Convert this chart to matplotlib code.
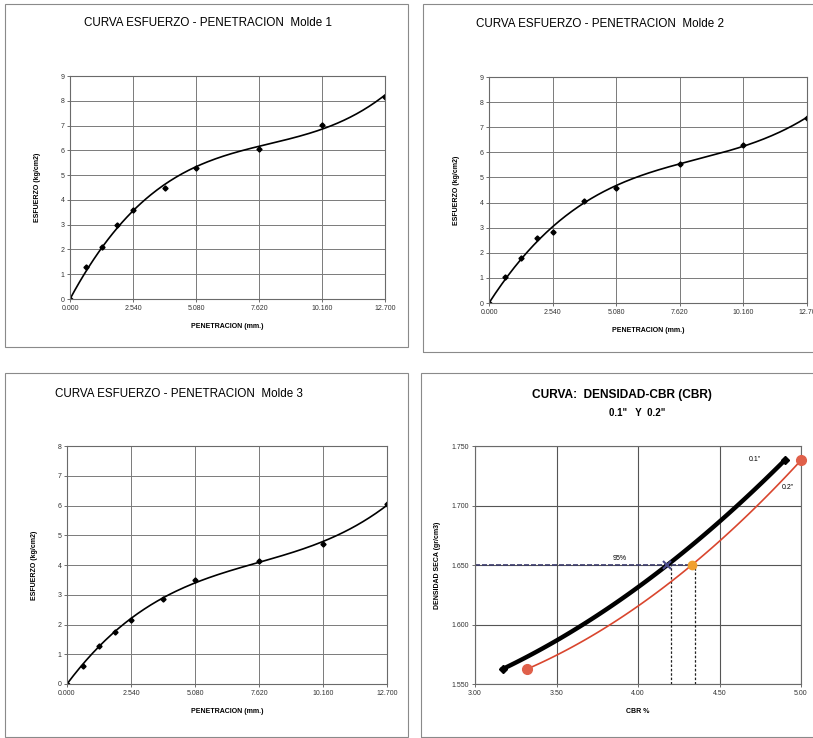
import numpy as np
import matplotlib
matplotlib.use("Agg")
import matplotlib.pyplot as plt
from matplotlib.patches import Rectangle

plt.rcParams['font.family'] = ['Liberation Sans', 'DejaVu Sans']

# ---------------- data ----------------
penetracion = [0.0, 0.635, 1.27, 1.905, 2.54, 3.81, 5.08, 7.62, 10.16, 12.70]
esfuerzo_m1 = [0.0, 1.30, 2.08, 2.99, 3.59, 4.49, 5.30, 6.06, 7.03, 8.17]
esfuerzo_m2 = [0.0, 1.03, 1.81, 2.58, 2.84, 4.06, 4.59, 5.53, 6.31, 7.37]
esfuerzo_m3 = [0.0, 0.59, 1.29, 1.74, 2.16, 2.87, 3.48, 4.14, 4.70, 6.04]
pen_ticks = [0.0, 2.54, 5.08, 7.62, 10.16, 12.70]
pen_ticklabels_1 = ["0.000", "2.540", "5.080", "7.620", "10.160", "12.700"]
pen_ticklabels_2 = ["0.000", "2.540", "5.080", "7.620", "10.160", "12.70"]

cbr_01 = [3.17, 4.18, 4.90]
dens_01 = [1.5626, 1.650, 1.738]
cbr_02 = [3.32, 4.33, 5.00]
dens_02 = [1.5626, 1.650, 1.738]
dens_95 = 1.650
cbr95_01 = 4.20
cbr95_02 = 4.35
cbr_ticks = [3.00, 3.50, 4.00, 4.50, 5.00]
dens_ticks = [1.550, 1.600, 1.650, 1.700, 1.750]

W, H = 813, 738
fig = plt.figure(figsize=(W / 100, H / 100), dpi=100)


def px_axes(l, r, t, b):
    return fig.add_axes([l / W, 1 - b / H, (r - l) / W, (b - t) / H])


def frame(l, r, t, b):
    fig.patches.append(Rectangle((l / W, 1 - b / H), (r - l) / W, (b - t) / H,
                                 transform=fig.transFigure, fill=False,
                                 edgecolor='#8a8a8a', linewidth=0.8))


def style(ax):
    ax.grid(True, color='#7a7a7a', linewidth=0.7)
    ax.set_axisbelow(True)
    for s in ax.spines.values():
        s.set_color('#6a6a6a'); s.set_linewidth(0.8)
    ax.tick_params(labelsize=5, length=2, width=0.5, colors='#333333', pad=2)


def trend_zero_intercept(x, y, deg=3):
    # polynomial trendline with intercept fixed at 0 (spreadsheet option)
    x = np.asarray(x, float); y = np.asarray(y, float)
    A = np.column_stack([x ** k for k in range(1, deg + 1)])
    c, *_ = np.linalg.lstsq(A, y, rcond=None)
    return lambda t: sum(c[k - 1] * t ** k for k in range(1, deg + 1))


def esfuerzo_panel(box, axbox, y, title, ymax, ylabel, ticklabels, title_xy):
    frame(*box)
    ax = px_axes(*axbox)
    style(ax)
    f = trend_zero_intercept(penetracion, y, 3)
    xs = np.linspace(0, 12.7, 200)
    ax.plot(xs, f(xs), color='black', linewidth=1.2)
    ax.plot(penetracion, y, linestyle='none', marker='D', markersize=2.6,
            color='black')
    ax.set_xlim(0, 12.7)
    ax.set_ylim(0, ymax)
    ax.set_xticks(pen_ticks)
    ax.set_xticklabels(ticklabels)
    ax.set_yticks(range(0, ymax + 1))
    ax.set_xlabel("PENETRACION (mm.)", fontsize=5, fontweight='bold', labelpad=8)
    ax.set_ylabel(ylabel, fontsize=5, fontweight='bold', labelpad=14)
    fig.text(title_xy[0] / W, 1 - title_xy[1] / H, title, fontsize=8.4,
             ha='center', va='center')
    return ax


esfuerzo_panel((5, 408, 4, 347), (70, 385, 76, 299), esfuerzo_m1,
               "CURVA ESFUERZO - PENETRACION  Molde 1", 9,
               "ESFUERZO (kg/cm2)", pen_ticklabels_1, (208, 23))
esfuerzo_panel((423, 830, 4, 352), (489, 807, 77, 303), esfuerzo_m2,
               "CURVA ESFUERZO - PENETRACION  Molde 2", 9,
               "ESFUERZO (kg/cm2)", pen_ticklabels_2, (600, 24))
esfuerzo_panel((5, 408, 373, 737), (67, 387, 446, 684), esfuerzo_m3,
               "CURVA ESFUERZO - PENETRACION  Molde 3", 8,
               "ESFUERZO (kg/cm2)", pen_ticklabels_1, (179, 394))

# ---------------- CBR panel ----------------
frame(421, 830, 373, 737)
ax = px_axes(475, 801, 446, 684)
style(ax)
ax.grid(True, color='#555555', linewidth=0.8)
c1 = np.polyfit(cbr_01, dens_01, 2)
xs = np.linspace(cbr_01[0], cbr_01[-1], 100)
ax.plot(xs, np.polyval(c1, xs), color='black', linewidth=3.2, zorder=3)
ax.plot([cbr_01[0], cbr_01[-1]], [dens_01[0], dens_01[-1]], linestyle='none',
        marker='D', markersize=4.5, color='black', zorder=4)
c2 = np.polyfit(cbr_02, dens_02, 2)
xs = np.linspace(cbr_02[0], cbr_02[-1], 100)
ax.plot(xs, np.polyval(c2, xs), color='#d9462e', linewidth=1.2, zorder=3)
ax.plot([cbr_02[0], cbr_02[-1]], [dens_02[0], dens_02[-1]], linestyle='none',
        marker='o', markersize=7, color='#e0604a', zorder=4, clip_on=False)
ax.plot([cbr_02[1]], [dens_02[1]], linestyle='none', marker='o', markersize=6,
        color='#f0a030', zorder=4)
ax.plot([cbr_01[1]], [dens_01[1]], linestyle='none', marker='x', markersize=6,
        mew=1.5, color='#4a4a8a', zorder=5)
ax.plot([3.0, cbr95_02], [dens_95, dens_95], color='#3a3a6a', linestyle='--',
        linewidth=1.2, dashes=(3, 1.2), zorder=2)
ax.plot([cbr95_01, cbr95_01], [1.55, dens_95], color='#222222', linestyle='--',
        linewidth=0.9, dashes=(2, 1.5), zorder=2)
ax.plot([cbr95_02, cbr95_02], [1.55, dens_95], color='#222222', linestyle='--',
        linewidth=0.9, dashes=(2, 1.5), zorder=2)
ax.text(3.89, 1.6555, "95%", fontsize=5, ha='center', va='center')
ax.text(4.72, 1.739, '0.1"', fontsize=5, ha='center', va='center')
ax.text(4.92, 1.715, '0.2"', fontsize=5, ha='center', va='center')
ax.set_xlim(3.0, 5.0)
ax.set_ylim(1.55, 1.75)
ax.set_xticks(cbr_ticks)
ax.set_xticklabels([f"{v:.2f}" for v in cbr_ticks])
ax.set_yticks(dens_ticks)
ax.set_yticklabels([f"{v:.3f}" for v in dens_ticks])
ax.set_xlabel("CBR %", fontsize=5, fontweight='bold', labelpad=8)
ax.set_ylabel("DENSIDAD SECA (gr/cm3)", fontsize=5, fontweight='bold', labelpad=8)
fig.text(622 / W, 1 - 395 / H, "CURVA:  DENSIDAD-CBR (CBR)", fontsize=8.6,
         fontweight='bold', ha='center', va='center')
fig.text(637 / W, 1 - 413 / H, '0.1"   Y  0.2"', fontsize=7,
         fontweight='bold', ha='center', va='center')

fig.savefig("out.png", dpi=100, facecolor='white')
